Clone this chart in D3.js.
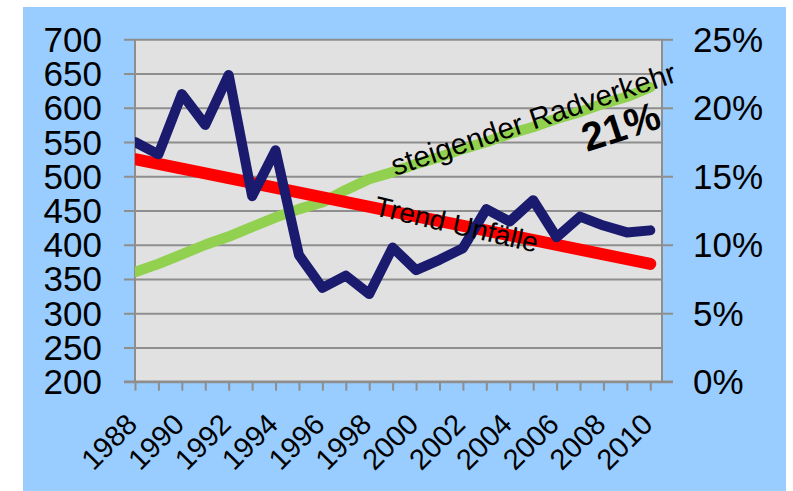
<!DOCTYPE html>
<html>
<head>
<meta charset="utf-8">
<script src="https://cdn.jsdelivr.net/npm/d3@7"></script>
<style>
  html, body { margin: 0; padding: 0; background: #ffffff; }
  svg { display: block; }
  text { font-family: "Liberation Sans", Arial, sans-serif; }
</style>
</head>
<body>
<svg id="chart" width="793" height="491"></svg>
<script>
// ---- data ----
const years = [1988, 1989, 1990, 1991, 1992, 1993, 1994, 1995, 1996, 1997, 1998, 1999,
               2000, 2001, 2002, 2003, 2004, 2005, 2006, 2007, 2008, 2009, 2010];
const yearLabels = ["1988", "1990", "1992", "1994", "1996", "1998", "2000",
                    "2002", "2004", "2006", "2008", "2010"];
// Unfälle (left axis)
const unfaelle = [550, 532, 620, 575, 648, 471, 538, 385, 337, 355, 328, 396,
                  363, 378, 395, 452, 434, 465, 411, 441, 428, 418, 421];
// Radverkehrsanteil in % (right axis)
const radverkehr = [8.0, 8.6, 9.3, 10.0, 10.6, 11.3, 12.0, 12.6, 13.1, 14.0, 14.8, 15.3,
                    15.9, 16.4, 17.0, 17.5, 18.1, 18.6, 19.2, 19.7, 20.3, 20.8, 21.5];
// Trend Unfälle (left axis), endpoints
const trendYears = [1988, 2010];
const trendValues = [525, 372];
const leftTicks = [200, 250, 300, 350, 400, 450, 500, 550, 600, 650, 700];
const rightTicks = [0, 5, 10, 15, 20, 25];

// ---- layout ----
const svg = d3.select("#chart");
const L = 135, R = 662, T = 39.3, B = 381.7;

svg.append("rect").attr("x", 23).attr("y", 7).attr("width", 763).attr("height", 484)
  .attr("fill", "#99CCFF");

const x = d3.scaleLinear().domain([1988, 2010.5]).range([L, R]);
const yL = d3.scaleLinear().domain([200, 700]).range([B, T]);
const yR = d3.scaleLinear().domain([0, 25]).range([B, T]);

// plot background
svg.append("rect").attr("x", L).attr("y", T).attr("width", R - L).attr("height", B - T)
  .attr("fill", "#E1E1E1");

const gridColor = "#8E8E8E";

// gridlines via left axis (ticks extending into the plot)
const gl = svg.append("g").attr("transform", `translate(${L},0)`)
  .call(d3.axisLeft(yL).tickValues(leftTicks).tickSize(11).tickFormat(""));
gl.select(".domain").remove();
gl.selectAll(".tick line").attr("x1", R - L).attr("x2", -11)
  .attr("stroke", gridColor).attr("stroke-width", 2);

// right axis ticks
const gr = svg.append("g").attr("transform", `translate(${R},0)`)
  .call(d3.axisRight(yR).tickValues(rightTicks).tickSize(11).tickFormat(""));
gr.select(".domain").remove();
gr.selectAll(".tick line").attr("stroke", gridColor).attr("stroke-width", 2);

// left / right borders
svg.append("line").attr("x1", L).attr("x2", L).attr("y1", T).attr("y2", B)
  .attr("stroke", gridColor).attr("stroke-width", 2);
svg.append("line").attr("x1", R).attr("x2", R).attr("y1", T).attr("y2", B)
  .attr("stroke", gridColor).attr("stroke-width", 2);

// bottom axis
const gx = svg.append("g").attr("transform", `translate(0,${B})`)
  .call(d3.axisBottom(x).tickValues(years).tickSize(9).tickFormat(""));
gx.select(".domain").remove();
gx.selectAll(".tick line").attr("stroke", gridColor).attr("stroke-width", 2);
svg.append("line").attr("x1", 124).attr("x2", 673).attr("y1", B).attr("y2", B)
  .attr("stroke", gridColor).attr("stroke-width", 2.5);

// axis labels
svg.append("g").selectAll("text").data(leftTicks).join("text")
  .attr("x", 102).attr("y", d => yL(d) + 12.5)
  .attr("text-anchor", "end").attr("font-size", 35).attr("fill", "#000")
  .text(d => d);
svg.append("g").selectAll("text").data(rightTicks).join("text")
  .attr("x", 693).attr("y", d => yR(d) + 12.5)
  .attr("text-anchor", "start").attr("font-size", 35).attr("fill", "#000")
  .text(d => d + "%");
svg.append("g").selectAll("text").data(yearLabels).join("text")
  .attr("transform", d => `translate(${x(+d) + 4},${426}) rotate(-45)`)
  .attr("text-anchor", "end").attr("font-size", 29).attr("fill", "#000")
  .text(d => d);

// clip for series
svg.append("clipPath").attr("id", "plotclip").append("rect")
  .attr("x", L).attr("y", 0).attr("width", R - L).attr("height", 491);
const series = svg.append("g").attr("clip-path", "url(#plotclip)");

const lineR = d3.line().x((d, i) => x(years[i])).y(d => yR(d));
const lineL = d3.line().x((d, i) => x(years[i])).y(d => yL(d));
const lineT = d3.line().x((d, i) => x(trendYears[i])).y(d => yL(d));

series.append("path").datum(radverkehr).attr("d", lineR)
  .attr("fill", "none").attr("stroke", "#92D050").attr("stroke-width", 10.5)
  .attr("stroke-linejoin", "round").attr("stroke-linecap", "round");
series.append("path").datum(trendValues).attr("d", lineT)
  .attr("fill", "none").attr("stroke", "#FF0000").attr("stroke-width", 12)
  .attr("stroke-linejoin", "round").attr("stroke-linecap", "round");
series.append("path").datum(unfaelle).attr("d", lineL)
  .attr("fill", "none").attr("stroke", "#1A1A6E").attr("stroke-width", 10)
  .attr("stroke-linejoin", "round").attr("stroke-linecap", "round");

// annotations
svg.append("text").attr("transform", "translate(395,176) rotate(-18.5)")
  .attr("font-size", 29.5).attr("fill", "#000").text("steigender Radverkehr");
svg.append("text").attr("transform", "translate(373,215) rotate(13)")
  .attr("font-size", 28).attr("fill", "#000").text("Trend Unfälle");
svg.append("text").attr("transform", "translate(587,152) rotate(-18)")
  .attr("font-size", 40).attr("font-weight", "bold").attr("fill", "#000").text("21%");
</script>
</body>
</html>
